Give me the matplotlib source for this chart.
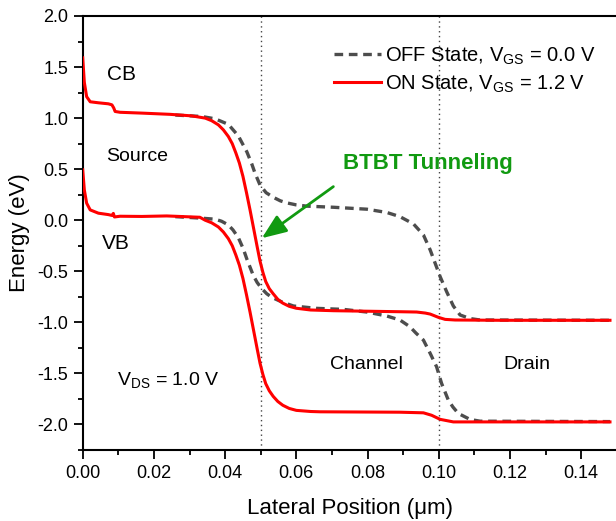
import matplotlib
matplotlib.use("Agg")
import matplotlib.pyplot as plt
from matplotlib.ticker import MultipleLocator, FormatStrFormatter

plt.rcParams['font.family'] = ['Liberation Sans', 'DejaVu Sans']
plt.rcParams['mathtext.fontset'] = 'custom'
plt.rcParams['mathtext.rm'] = 'Liberation Sans'
plt.rcParams['mathtext.it'] = 'Liberation Sans'
plt.rcParams['axes.unicode_minus'] = False

# ---- data ----
on_cb_x = [0.0, 0.00045, 0.0011, 0.0021, 0.0044, 0.0072, 0.0082, 0.0087, 0.0091, 0.0105,
           0.0166, 0.0245, 0.0306, 0.0344, 0.0362, 0.0381, 0.0395, 0.0409, 0.0420, 0.0430,
           0.0440, 0.0450, 0.0460, 0.0470, 0.0480, 0.0490, 0.0498, 0.0506, 0.0514, 0.0524,
           0.0535, 0.0548, 0.0562, 0.0580, 0.0600, 0.0640, 0.0704, 0.0891, 0.0938, 0.0962,
           0.0976, 0.0999, 0.1018, 0.1046, 0.1172, 0.1481]
on_cb_y = [1.59, 1.35, 1.21, 1.16, 1.15, 1.14, 1.13, 1.10, 1.065, 1.057,
           1.049, 1.037, 1.022, 1.000, 0.975, 0.934, 0.885, 0.82, 0.75, 0.66,
           0.56, 0.43, 0.27, 0.10, -0.08, -0.26, -0.40, -0.51, -0.60, -0.67,
           -0.72, -0.775, -0.812, -0.843, -0.862, -0.879, -0.886, -0.896, -0.899, -0.909,
           -0.919, -0.951, -0.971, -0.977, -0.980, -0.980]

on_vb_x = [0.0, 0.00045, 0.0011, 0.0021, 0.0044, 0.0072, 0.0082, 0.0086, 0.0089, 0.0105,
           0.0166, 0.0236, 0.0329, 0.0344, 0.0362, 0.0381, 0.0395, 0.0409, 0.0420, 0.0430,
           0.0440, 0.0450, 0.0460, 0.0470, 0.0480, 0.0490, 0.0498, 0.0506, 0.0514, 0.0524,
           0.0535, 0.0548, 0.0562, 0.0580, 0.0600, 0.0640, 0.0667, 0.0891, 0.0957, 0.0980,
           0.1004, 0.1041, 0.1481]
on_vb_y = [0.493, 0.297, 0.167, 0.101, 0.069, 0.055, 0.047, 0.067, 0.032, 0.039,
           0.037, 0.042, 0.029, 0.0, -0.025, -0.066, -0.115, -0.18, -0.25, -0.34,
           -0.44, -0.57, -0.73, -0.90, -1.08, -1.26, -1.40, -1.51, -1.60, -1.67,
           -1.725, -1.775, -1.812, -1.843, -1.862, -1.873, -1.876, -1.88, -1.886, -1.91,
           -1.95, -1.975, -1.975]

off_cb_x = [0.026, 0.0287, 0.0334, 0.0372, 0.0409, 0.0437, 0.0461, 0.0475, 0.0484, 0.0498,
            0.0515, 0.0535, 0.0555, 0.0573, 0.0600, 0.0629, 0.0704, 0.0798, 0.0854, 0.0891,
            0.0929, 0.0957, 0.0976, 0.0990, 0.1004, 0.1022, 0.1041, 0.1060, 0.1088, 0.1116,
            0.1481]
off_cb_y = [1.03, 1.025, 1.016, 0.993, 0.939, 0.826, 0.670, 0.550, 0.460, 0.345,
            0.270, 0.225, 0.190, 0.170, 0.150, 0.138, 0.127, 0.108, 0.076, 0.035,
            -0.036, -0.144, -0.291, -0.422, -0.553, -0.698, -0.840, -0.928, -0.963, -0.977,
            -0.980]

off_vb_x = [0.026, 0.0334, 0.0372, 0.0390, 0.0409, 0.0422, 0.0437, 0.0451, 0.0461, 0.0470,
            0.0479, 0.0490, 0.0503, 0.0517, 0.0531, 0.0559, 0.0592, 0.0657, 0.0732, 0.0798,
            0.0854, 0.0891, 0.0919, 0.0936, 0.0957, 0.0976, 0.0994, 0.1008, 0.1027, 0.1040,
            0.1055, 0.1088, 0.1116, 0.1481]
off_vb_y = [0.035, 0.020, 0.010, -0.010, -0.046, -0.095, -0.17, -0.28, -0.38, -0.46,
            -0.54, -0.61, -0.67, -0.72, -0.755, -0.80, -0.84, -0.863, -0.873, -0.899,
            -0.938, -0.977, -1.043, -1.105, -1.174, -1.304, -1.435, -1.598, -1.762, -1.83,
            -1.892, -1.951, -1.968, -1.972]

region_boundaries = [0.05, 0.10]
off_label = "OFF State, V$_{\\mathregular{GS}}$ = 0.0 V"
on_label = "ON State, V$_{\\mathregular{GS}}$ = 1.2 V"

# ---- figure ----
fig = plt.figure(figsize=(6.16, 5.21), dpi=100)
ax = fig.add_axes([0.1343, 0.1363, 0.8669, 0.833])

for xb in region_boundaries:
    ax.axvline(xb, color='#444444', lw=1.0, ls=(0, (1, 2.5)), zorder=1)

dark = '#4d4d4d'
l_off, = ax.plot(off_cb_x, off_cb_y, color=dark, lw=2.4, dashes=(2.6, 1.7), zorder=2, label=off_label)
ax.plot(off_vb_x, off_vb_y, color=dark, lw=2.4, dashes=(2.6, 1.7), zorder=2)
l_on, = ax.plot(on_cb_x, on_cb_y, color='#ff0000', lw=2.2, zorder=3, label=on_label)
ax.plot(on_vb_x, on_vb_y, color='#ff0000', lw=2.2, zorder=3)

ax.set_xlim(0, 0.15)
ax.set_ylim(-2.25, 2.0)
ax.xaxis.set_major_locator(MultipleLocator(0.02))
ax.xaxis.set_minor_locator(MultipleLocator(0.01))
ax.yaxis.set_major_locator(MultipleLocator(0.5))
ax.yaxis.set_minor_locator(MultipleLocator(0.25))
ax.xaxis.set_major_formatter(FormatStrFormatter('%.2f'))
ax.yaxis.set_major_formatter(FormatStrFormatter('%.1f'))
ax.tick_params(which='major', direction='out', length=6.5, width=1.3, labelsize=13, pad=4)
ax.tick_params(which='minor', direction='out', length=3.6, width=1.3)
ax.tick_params(top=False, right=False)
for s in ax.spines.values():
    s.set_linewidth(1.5)
ax.spines['right'].set_visible(False)

ax.set_xlabel("Lateral Position (\u03bcm)", fontsize=16, labelpad=12)
ax.set_ylabel("Energy (eV)", fontsize=16, labelpad=5)

fs = 14
ax.text(0.0067, 1.43, "CB", fontsize=15, ha='left', va='center')
ax.text(0.0067, 0.62, "Source", fontsize=fs, ha='left', va='center')
ax.text(0.0054, -0.23, "VB", fontsize=15, ha='left', va='center')
ax.text(0.0096, -1.56, "V$_{\\mathregular{DS}}$ = 1.0 V", fontsize=fs, ha='left', va='center')
ax.text(0.0695, -1.41, "Channel", fontsize=fs, ha='left', va='center')
ax.text(0.1181, -1.41, "Drain", fontsize=fs, ha='left', va='center')

green = '#119a11'
ax.text(0.0969, 0.56, "BTBT Tunneling", fontsize=16, fontweight='bold', color=green,
        ha='center', va='center')
ax.annotate("", xy=(0.0503, -0.176), xytext=(0.0704, 0.329),
            arrowprops=dict(arrowstyle='-|>,head_length=1.5,head_width=0.6', color=green, lw=2.0,
                            shrinkA=0, shrinkB=0))

leg = ax.legend(handles=[l_off, l_on], loc='upper left', bbox_to_anchor=(0.470, 0.932),
                frameon=False, fontsize=14.5, handlelength=2.35, handletextpad=0.2,
                labelspacing=0.33, borderpad=0, borderaxespad=0)

fig.savefig("out.png", dpi=100)
